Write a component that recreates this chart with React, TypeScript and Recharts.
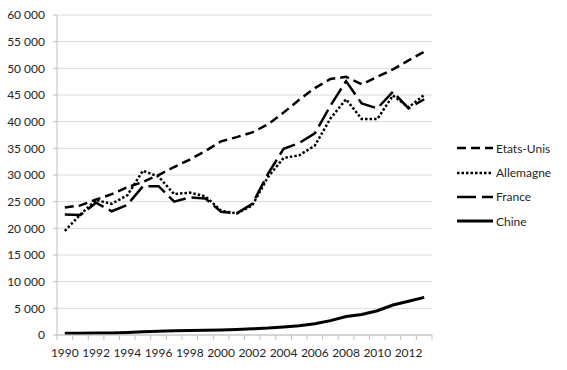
import { LineChart, Line, XAxis, YAxis, CartesianGrid, Legend } from "recharts";

// PIB par habitant (USD courants)
const years = [
  1990, 1991, 1992, 1993, 1994, 1995, 1996, 1997, 1998, 1999, 2000, 2001,
  2002, 2003, 2004, 2005, 2006, 2007, 2008, 2009, 2010, 2011, 2012, 2013,
];
const etatsUnis = [
  23900, 24300, 25400, 26400, 27700, 28700, 30000, 31500, 32900, 34500, 36300,
  37100, 38000, 39500, 41700, 44100, 46300, 48000, 48400, 47000, 48400, 49800,
  51500, 53100,
];
const allemagne = [
  19500, 22600, 25300, 24600, 26200, 30800, 29700, 26400, 26700, 26000, 23300,
  22800, 24300, 29600, 33200, 33700, 35500, 40600, 44200, 40500, 40500, 44900,
  42700, 45000,
];
const france = [
  22600, 22500, 24800, 23200, 24400, 27900, 27900, 25000, 25800, 25600, 23100,
  22800, 24600, 30200, 34900, 36000, 37800, 43000, 47600, 43400, 42500, 45600,
  42500, 44200,
];
const chine = [
  320, 330, 370, 380, 470, 610, 710, 780, 830, 870, 960, 1050, 1150, 1290, 1510,
  1750, 2100, 2690, 3470, 3830, 4550, 5620, 6320, 7050,
];
const yTicks = [0, 5000, 10000, 15000, 20000, 25000, 30000, 35000, 40000, 45000, 50000, 55000, 60000];

const data = years.map((year, i) => ({
  year,
  etatsUnis: etatsUnis[i],
  allemagne: allemagne[i],
  france: france[i],
  chine: chine[i],
}));

const series = [
  { key: "etatsUnis", name: "Etats-Unis", dash: "9 5", width: 2.5 },
  { key: "allemagne", name: "Allemagne", dash: "2.5 2", width: 2.5 },
  { key: "france", name: "France", dash: "19 6", width: 2.5 },
  { key: "chine", name: "Chine", dash: undefined, width: 3 },
];

const W = 567;
const H = 370;
const margin = { top: 15, right: 23, bottom: 15, left: 7 };
const Y_AXIS_W = 50;
const X_AXIS_H = 20;
const LEGEND_W = 112;
const plotW = W - margin.left - margin.right - Y_AXIS_W - LEGEND_W;
const step = plotW / years.length;

const TEXT = "#262626";
const AXIS = "#bfbfbf";

const fmt = (v: number) => String(v).replace(/\B(?=(\d{3})+(?!\d))/g, " ");

function XTick({ x, y, payload }: any) {
  const v = payload.value as number;
  const last = v === years[years.length - 1];
  return (
    <g>
      <line x1={x - step / 2} x2={x - step / 2} y1={y} y2={y + 5} stroke={AXIS} />
      {last && <line x1={x + step / 2} x2={x + step / 2} y1={y} y2={y + 5} stroke={AXIS} />}
      {v % 2 === 0 && (
        <text x={x} y={y + 22} textAnchor="middle" fontSize={12} fill={TEXT}>
          {v}
        </text>
      )}
    </g>
  );
}

function LegendBox() {
  return (
    <div style={{ width: LEGEND_W }}>
      {series.map((s) => (
        <div key={s.key} style={{ display: "flex", alignItems: "center", height: 24.4 }}>
          <svg width={36} height={6} style={{ marginRight: 3 }}>
            <line x1={0} x2={36} y1={3} y2={3} stroke="#000" strokeWidth={s.width} strokeDasharray={s.dash} />
          </svg>
          <span style={{ fontSize: 12, color: TEXT }}>{s.name}</span>
        </div>
      ))}
    </div>
  );
}

export default function App() {
  return (
    <div style={{ position: "fixed", left: 0, top: 0, width: W, height: H, background: "#fff", fontFamily: "Lato" }}>
      <LineChart width={W} height={H} data={data} margin={margin}>
        <CartesianGrid vertical={false} stroke="#d9d9d9" />
        <XAxis
          dataKey="year"
          type="number"
          domain={[1989.5, 2013.5]}
          ticks={years}
          interval={0}
          height={X_AXIS_H}
          tickSize={0}
          tickMargin={0}
          tickLine={false}
          axisLine={{ stroke: AXIS }}
          tick={<XTick />}
        />
        <YAxis
          domain={[0, 60000]}
          ticks={yTicks}
          width={Y_AXIS_W}
          tickSize={4}
          tickMargin={8}
          tickLine={{ stroke: AXIS }}
          axisLine={{ stroke: AXIS }}
          tickFormatter={fmt}
          tick={{ fontSize: 12, fill: TEXT }}
          interval={0}
        />
        <Legend
          layout="vertical"
          align="right"
          verticalAlign="middle"
          content={<LegendBox />}
          wrapperStyle={{ width: LEGEND_W, top: 136, left: 457 }}
        />
        {series.map((s) => (
          <Line
            key={s.key}
            dataKey={s.key}
            name={s.name}
            stroke="#000"
            strokeWidth={s.width}
            strokeDasharray={s.dash}
            dot={false}
            activeDot={false}
            type="linear"
            isAnimationActive={false}
          />
        ))}
      </LineChart>
    </div>
  );
}
